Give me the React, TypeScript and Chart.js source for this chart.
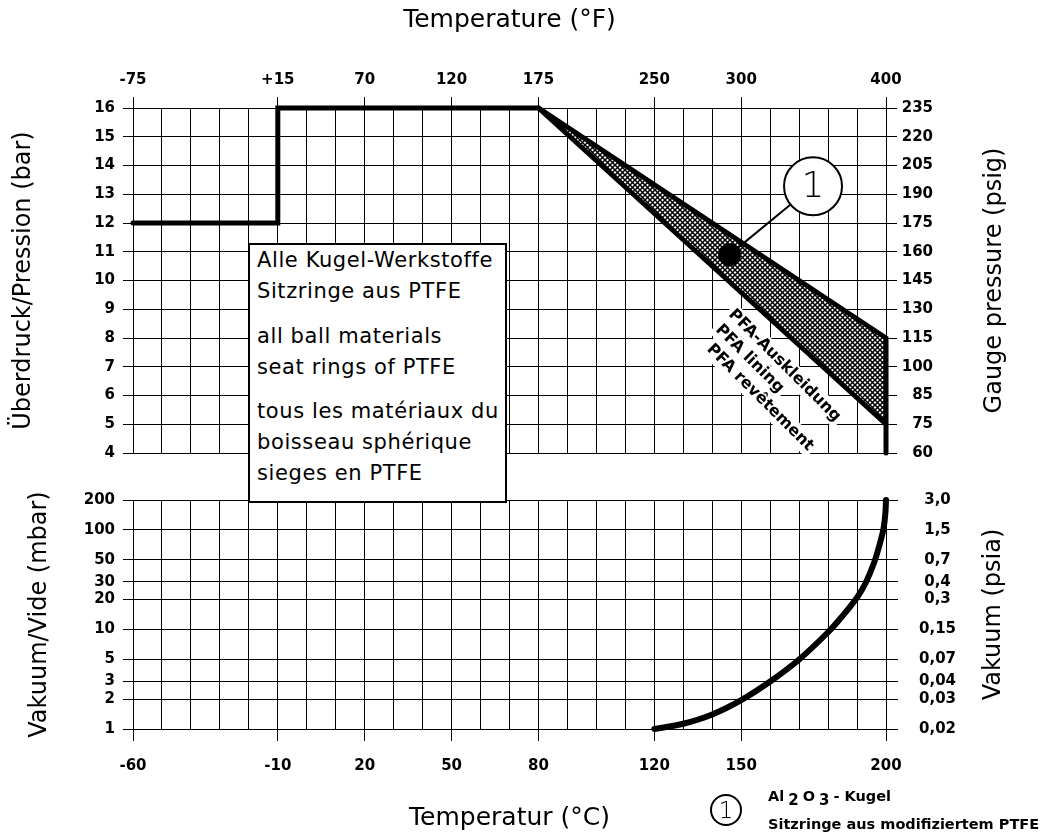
import React, { useEffect, useRef } from 'react';
import { Chart, registerables } from 'chart.js';

Chart.register(...registerables);

const FONT = '"DejaVu Sans", "Noto Sans", sans-serif';

// ---- Temperature axis ----
const tempMin = -60;
const tempMax = 200;
const tempStep = 10;
const cTickValues = [-60, -10, 20, 50, 80, 120, 150, 200];
const cTickLabels = ['-60', '-10', '20', '50', '80', '120', '150', '200'];
const fTickLabels = ['-75', '+15', '70', '120', '175', '250', '300', '400'];

// ---- Pressure panel ----
const barTicks = [4, 5, 6, 7, 8, 9, 10, 11, 12, 13, 14, 15, 16];
const psigLabels = ['60', '75', '85', '100', '115', '130', '145', '160', '175', '190', '205', '220', '235'];

// PTFE seat ring limit line
const ptfeTemp = [-60, -10, -10, 80, 200, 200];
const ptfePressure = [12, 12, 16, 16, 8, 4];

// PFA lining band
const pfaTemp = [80, 200];
const pfaUpper = [16, 8];
const pfaLower = [16, 5];

// Al2O3 ball marker and its callout
const markerTemp = 146;
const markerPressure = 10.9;
const calloutTemp = 174.8;
const calloutPressure = 13.28;

// PFA label anchor (data position of first line start)
const pfaLabelTemp = 146.5;
const pfaLabelPressure = 8.9;
const pfaLabelLines = ['PFA-Auskleidung', 'PFA lining', 'PFA revêtement'];

// ---- Vacuum panel ----
const mbarTicks = [1, 2, 3, 5, 10, 20, 30, 50, 100, 200];
const psiaLabels = ['0,02', '0,03', '0,04', '0,07', '0,15', '0,3', '0,4', '0,7', '1,5', '3,0'];

const vacTemp = [120, 130, 140, 150, 160, 170, 180, 185, 190, 193, 196, 198, 199.2, 199.8, 200];
const vacMbar = [1, 1.13, 1.4, 1.95, 3, 5, 9.4, 13.7, 21, 29.5, 48, 75, 105, 150, 200];

const toPts = (xs: number[], ys: number[]) => xs.map((x, i) => ({ x, y: ys[i] }));

const tickFont = { family: FONT, size: 15, weight: 'bold' as const };
const titleFont = { family: FONT, size: 24 };
const xTitleFont = { family: FONT, size: 25 };

const labelledTick = (ctx: any) =>
  ctx.tick && cTickValues.includes(ctx.tick.value) ? '#000' : 'rgba(0,0,0,0)';

function makeHatch(): CanvasPattern | string {
  const c = document.createElement('canvas');
  c.width = 5;
  c.height = 5;
  const g = c.getContext('2d');
  if (!g) return '#555';
  g.fillStyle = '#fff';
  g.fillRect(0, 0, 5, 5);
  g.strokeStyle = '#000';
  g.lineWidth = 1.5;
  g.beginPath();
  g.moveTo(-1, -1);
  g.lineTo(6, 6);
  g.moveTo(6, -1);
  g.lineTo(-1, 6);
  g.stroke();
  return g.createPattern(c, 'repeat') || '#555';
}

// right-hand rotated axis titles (read bottom-to-top)
const sideTitlePlugin = {
  id: 'sideTitle',
  afterDraw(chart: any, _args: any, opts: any) {
    const { ctx, chartArea } = chart;
    ctx.save();
    ctx.translate(chart.width - opts.inset, (chartArea.top + chartArea.bottom) / 2);
    ctx.rotate(-Math.PI / 2);
    ctx.font = `24px ${FONT}`;
    ctx.fillStyle = '#000';
    ctx.textAlign = 'center';
    ctx.textBaseline = 'middle';
    ctx.fillText(opts.text, 0, 0);
    ctx.restore();
  },
};

const annotPlugin = {
  id: 'annot',
  afterDatasetsDraw(chart: any) {
    const { ctx } = chart;
    const x = chart.scales.x;
    const y = chart.scales.y;

    // rotated PFA labels
    const ax = x.getPixelForValue(pfaLabelTemp);
    const ay = y.getPixelForValue(pfaLabelPressure);
    const ang = (45 * Math.PI) / 180;
    const shifts = [0, 1.5, 9];
    const gap = 20;
    ctx.save();
    ctx.translate(ax, ay);
    ctx.rotate(ang);
    ctx.font = `bold 16px ${FONT}`;
    ctx.textBaseline = 'middle';
    ctx.textAlign = 'left';
    pfaLabelLines.forEach((t, i) => {
      const w = ctx.measureText(t).width;
      ctx.fillStyle = '#fff';
      ctx.fillRect(shifts[i] - 3, i * gap - 10, w + 6, 20);
    });
    pfaLabelLines.forEach((t, i) => {
      ctx.fillStyle = '#000';
      ctx.fillText(t, shifts[i], i * gap);
    });
    ctx.restore();

    // marker, leader and callout
    const mx = x.getPixelForValue(markerTemp);
    const my = y.getPixelForValue(markerPressure);
    const cx = x.getPixelForValue(calloutTemp);
    const cy = y.getPixelForValue(calloutPressure);
    const r = 29;
    const d = Math.hypot(cx - mx, cy - my);
    const ux = (cx - mx) / d;
    const uy = (cy - my) / d;
    ctx.save();
    ctx.strokeStyle = '#000';
    ctx.lineWidth = 2;
    ctx.beginPath();
    ctx.moveTo(mx, my);
    ctx.lineTo(cx - ux * r, cy - uy * r);
    ctx.stroke();
    ctx.fillStyle = '#000';
    ctx.beginPath();
    ctx.arc(mx, my, 11.5, 0, Math.PI * 2);
    ctx.fill();
    ctx.fillStyle = '#fff';
    ctx.beginPath();
    ctx.arc(cx, cy, r, 0, Math.PI * 2);
    ctx.fill();
    ctx.stroke();
    ctx.fillStyle = '#000';
    ctx.font = `300 36px ${FONT}`;
    ctx.textAlign = 'center';
    ctx.textBaseline = 'middle';
    ctx.fillText('1', cx, cy + 1);
    ctx.restore();
  },
};

export default function App() {
  const topRef = useRef<HTMLCanvasElement>(null);
  const botRef = useRef<HTMLCanvasElement>(null);

  useEffect(() => {
    if (!topRef.current || !botRef.current) return;
    const hatch = makeHatch();

    const xCommon = {
      type: 'linear' as const,
      min: tempMin,
      max: tempMax,
      border: { color: '#000', width: 1 },
    };

    const top = new Chart(topRef.current, {
      type: 'line',
      data: {
        datasets: [
          {
            label: 'PTFE',
            data: toPts(ptfeTemp, ptfePressure),
            borderColor: '#000',
            borderWidth: 5,
            pointRadius: 0,
            fill: false,
            borderCapStyle: 'round',
            clip: 8,
          },
          {
            label: 'PFA lower',
            data: toPts(pfaTemp, pfaLower),
            borderColor: '#000',
            borderWidth: 5,
            pointRadius: 0,
            fill: false,
            borderCapStyle: 'round',
            clip: 8,
          },
          {
            label: 'PFA band',
            data: toPts(pfaTemp, pfaUpper),
            borderColor: 'rgba(0,0,0,0)',
            borderWidth: 0,
            pointRadius: 0,
            fill: 1,
            backgroundColor: hatch as any,
          },
        ],
      },
      options: {
        animation: false,
        responsive: true,
        maintainAspectRatio: false,
        layout: { padding: { top: 0, left: 0, right: 111, bottom: 13 } },
        plugins: {
          legend: { display: false },
          tooltip: { enabled: false },
          sideTitle: { text: 'Gauge pressure (psig)', inset: 49 },
        } as any,
        scales: {
          x: {
            ...xCommon,
            position: 'top',
            ticks: {
              stepSize: tempStep,
              autoSkip: false,
              maxRotation: 0,
              padding: 8,
              color: '#000',
              font: tickFont,
              callback: (v: any) => {
                const i = cTickValues.indexOf(Number(v));
                return i >= 0 ? fTickLabels[i] : '';
              },
            },
            grid: { color: '#000', lineWidth: 1, tickLength: 11, tickColor: labelledTick },
            title: { display: true, text: 'Temperature (°F)', color: '#000', font: xTitleFont, padding: { top: 5, bottom: 0 } },
            afterFit: (s: any) => {
              s.height = 108;
            },
          },
          y: {
            type: 'linear',
            position: 'left',
            min: 4,
            max: 16,
            border: { color: '#000', width: 1 },
            ticks: { stepSize: 1, padding: 8, color: '#000', font: tickFont },
            grid: { color: '#000', lineWidth: 1, tickLength: 10 },
            title: { display: true, text: 'Überdruck/Pression (bar)', color: '#000', font: titleFont, padding: { top: 9, bottom: 0 } },
            afterFit: (s: any) => {
              s.width = 133;
            },
          },
          y2: {
            type: 'linear',
            position: 'right',
            min: 4,
            max: 16,
            border: { color: '#000', width: 1 },
            ticks: {
              stepSize: 1,
              padding: 6,
              crossAlign: 'far',
              color: '#000',
              font: tickFont,
              callback: (v: any) => psigLabels[barTicks.indexOf(Number(v))] ?? '',
            },
            grid: { drawOnChartArea: false, color: '#000', tickLength: 11 },
            afterFit: (s: any) => {
              s.width = 47;
            },
          },
        },
      } as any,
      plugins: [annotPlugin, sideTitlePlugin],
    });

    const setLogTicks = (s: any) => {
      s.ticks = mbarTicks.map((v) => ({ value: v }));
    };

    const bottom = new Chart(botRef.current, {
      type: 'line',
      data: {
        datasets: [
          {
            label: 'Vacuum',
            data: toPts(vacTemp, vacMbar),
            borderColor: '#000',
            borderWidth: 6,
            pointRadius: 0,
            fill: false,
            tension: 0.4,
            borderCapStyle: 'round',
            borderJoinStyle: 'round',
            clip: 8,
          },
        ],
      },
      options: {
        animation: false,
        responsive: true,
        maintainAspectRatio: false,
        layout: { padding: { top: 16, left: 0, right: 0, bottom: 0 } },
        plugins: {
          legend: { display: false },
          tooltip: { enabled: false },
          sideTitle: { text: 'Vakuum (psia)', inset: 50 },
        } as any,
        scales: {
          x: {
            ...xCommon,
            position: 'bottom',
            ticks: {
              stepSize: tempStep,
              autoSkip: false,
              maxRotation: 0,
              padding: 16,
              color: '#000',
              font: tickFont,
              callback: (v: any) => {
                const i = cTickValues.indexOf(Number(v));
                return i >= 0 ? cTickLabels[i] : '';
              },
            },
            grid: { color: '#000', lineWidth: 1, tickLength: 12, tickColor: labelledTick },
            title: { display: true, text: 'Temperatur (°C)', color: '#000', font: xTitleFont, padding: { top: 0, bottom: 2 } },
            afterFit: (s: any) => {
              s.height = 106;
            },
          },
          y: {
            type: 'logarithmic',
            position: 'left',
            min: 1,
            max: 200,
            border: { color: '#000', width: 1 },
            afterBuildTicks: setLogTicks,
            ticks: { padding: 8, color: '#000', font: tickFont, autoSkip: false, callback: (v: any) => String(v) },
            grid: { color: '#000', lineWidth: 1, tickLength: 10 },
            title: { display: true, text: 'Vakuum/Vide (mbar)', color: '#000', font: titleFont, padding: { top: 25, bottom: 0 } },
            afterFit: (s: any) => {
              s.width = 133;
            },
          },
          y2: {
            type: 'logarithmic',
            position: 'right',
            min: 1,
            max: 200,
            border: { color: '#000', width: 1 },
            afterBuildTicks: setLogTicks,
            ticks: {
              padding: 21,
              crossAlign: 'center',
              autoSkip: false,
              color: '#000',
              font: tickFont,
              callback: (v: any) => psiaLabels[mbarTicks.indexOf(Number(v))] ?? '',
            },
            grid: { drawOnChartArea: false, color: '#000', tickLength: 12 },
            afterFit: (s: any) => {
              s.width = 158;
            },
          },
        },
      } as any,
      plugins: [sideTitlePlugin],
    });

    return () => {
      top.destroy();
      bottom.destroy();
    };
  }, []);

  const boxLine: React.CSSProperties = { height: 31, lineHeight: '31px', whiteSpace: 'nowrap' };
  const subStyle: React.CSSProperties = { fontSize: 15, verticalAlign: '-4px', margin: '0 4px' };

  return (
    <div style={{ position: 'absolute', left: 0, top: 0, width: 1044, height: 835, background: '#fff', overflow: 'hidden' }}>
      <div style={{ position: 'absolute', left: 0, top: 0, width: 1044, height: 470 }}>
        <canvas ref={topRef} />
      </div>
      <div style={{ position: 'absolute', left: 0, top: 470, width: 1044, height: 365 }}>
        <canvas ref={botRef} />
      </div>
      <div
        style={{
          position: 'absolute',
          left: 248,
          top: 243,
          width: 259,
          height: 260,
          boxSizing: 'border-box',
          border: '2px solid #000',
          background: '#fff',
          fontFamily: FONT,
          fontSize: 21,
          letterSpacing: '0.6px',
          color: '#000',
          padding: '0 0 0 7px',
          zIndex: 2,
        }}
      >
        <div style={boxLine}>Alle Kugel-Werkstoffe</div>
        <div style={boxLine}>Sitzringe aus PTFE</div>
        <div style={{ ...boxLine, marginTop: 14 }}>all ball materials</div>
        <div style={boxLine}>seat rings of PTFE</div>
        <div style={{ ...boxLine, marginTop: 13 }}>tous les matériaux du</div>
        <div style={boxLine}>boisseau sphérique</div>
        <div style={boxLine}>sieges en PTFE</div>
      </div>
      <div
        style={{
          position: 'absolute',
          left: 710,
          top: 794,
          width: 32,
          height: 32,
          boxSizing: 'border-box',
          border: '2px solid #000',
          borderRadius: '50%',
          fontFamily: FONT,
          fontWeight: 300,
          fontSize: 23,
          lineHeight: '28px',
          textAlign: 'center',
          color: '#000',
          zIndex: 2,
        }}
      >
        1
      </div>
      <div
        style={{
          position: 'absolute',
          left: 768,
          top: 784,
          fontFamily: FONT,
          fontWeight: 'bold',
          fontSize: 14.5,
          lineHeight: '24px',
          color: '#000',
          whiteSpace: 'nowrap',
          zIndex: 2,
        }}
      >
        <div>
          Al<sub style={subStyle}>2</sub>O<sub style={subStyle}>3</sub>- Kugel
        </div>
        <div>Sitzringe aus modifiziertem PTFE</div>
      </div>
    </div>
  );
}
